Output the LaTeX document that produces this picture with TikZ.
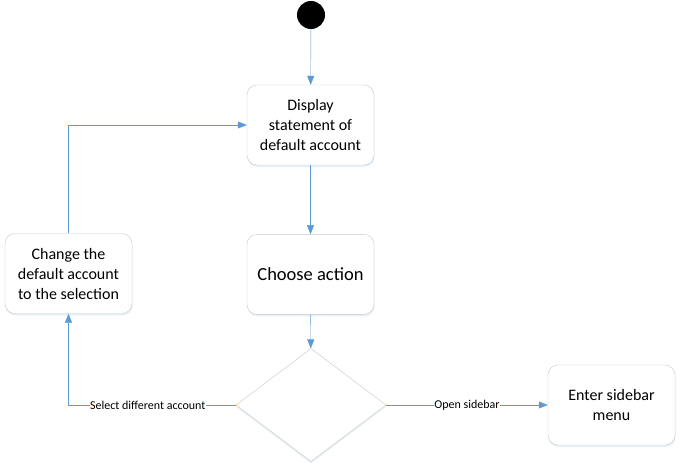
\documentclass[tikz,border=0pt]{standalone}
\usepackage{fontspec}
\setmainfont{Carlito}
\usepackage{tikz}
\usetikzlibrary{positioning,shapes.geometric,arrows.meta,shadows}
\definecolor{flowcolor}{RGB}{91,155,213}
\definecolor{boxcolor}{RGB}{200,200,200}
\newcommand{\bigtxt}{\fontsize{18.5pt}{23pt}\selectfont}
\newcommand{\midtxt}{\fontsize{16pt}{20pt}\selectfont}
\newcommand{\smalltxt}{\fontsize{12pt}{14pt}\selectfont}

\begin{document}
\begin{tikzpicture}[
			x=1pt, y=-1pt,
			state/.style={rectangle, rounded corners=10pt, draw=boxcolor, fill=white, minimum width=127pt, minimum height=80pt, align=center, font=\midtxt,
				drop shadow={shadow xshift=0.5pt, shadow yshift=-2pt, fill=flowcolor!25, opacity=0.6}},
			choice/.style={diamond, draw=boxcolor, fill=white, minimum width=150pt, minimum height=113pt, inner sep=0pt,
				drop shadow={shadow xshift=0pt, shadow yshift=-2pt, fill=flowcolor!25, opacity=0.6}},
			flow/.style={draw=flowcolor, -{Triangle[length=9pt,width=7pt]}},
			guard/.style={fill=white, inner sep=0.5pt, font=\smalltxt},
		]

		\useasboundingbox (0,0) rectangle (682,471);

		\node[circle, fill=black, minimum size=28pt, inner sep=0pt] (init) at (311,15) {};
		\node[state] (disp)   at (310.5,125)   {Display\\statement of\\default account};
		\node[state, font=\bigtxt] (choose) [below=69pt of disp] {Choose action};
		\node[choice] (dec)    at (311,405)     {};
		\node[state] (change) at (68.5,273.5)  {Change the\\default account\\to the selection};
		\node[state] (side)   at (611.5,405)   {Enter sidebar\\menu};

		\draw[flow] (init) -- (disp);
		\draw[flow] (disp) -- (choose);
		\draw[flow] (choose) -- (dec);
		\draw[flow] (dec.west) -| node[guard, pos=0.263] {Select different account} (change.south);
		\draw[flow] (change.north) |- (disp.west);
		\draw[flow] (dec.east) -- node[guard] {Open sidebar} (side.west);

		\end{tikzpicture}
\end{document}
